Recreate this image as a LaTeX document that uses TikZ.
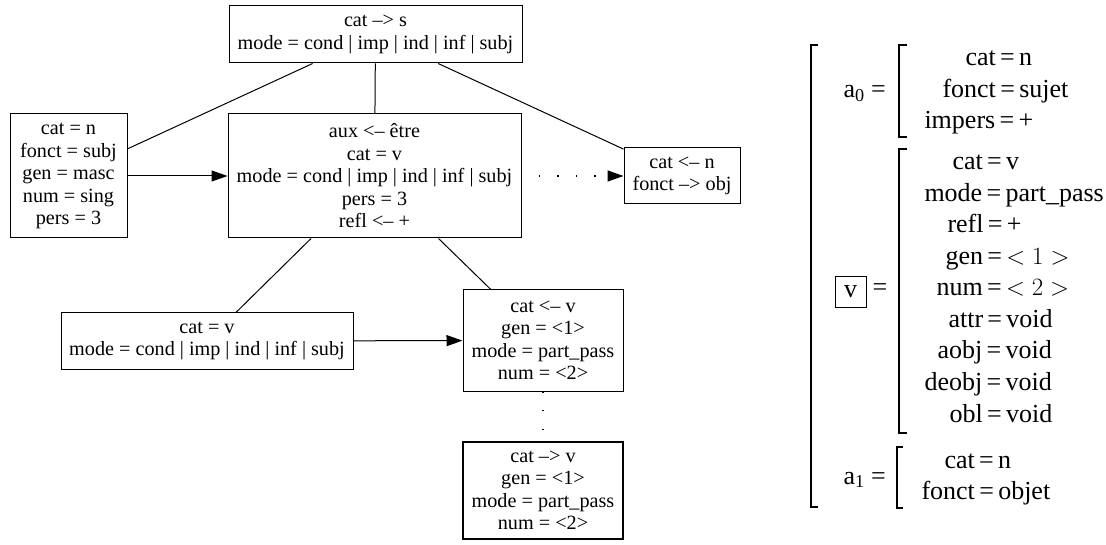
\documentclass[tikz,border=0pt]{standalone}
\usepackage{fontspec}
\setmainfont{Liberation Serif}
\usetikzlibrary{arrows.meta}
\tikzset{
	box/.style={draw,line width=1pt,align=center,inner sep=0pt,
		font=\fontsize{20.2}{22.5}\selectfont},
	dots/.style={line width=1.4pt,dash pattern=on 1.4pt off 17.1pt},
	feat/.style={anchor=base west,inner sep=0pt,font=\fontsize{26}{31}\selectfont},
	brk/.style={line width=1.6pt}
}
\begin{document}
\begin{tikzpicture}[x=1pt,y=-1pt,>={Triangle[length=16pt,width=11pt]},line width=1pt]
	\useasboundingbox (0,0) rectangle (1106,545);
	% graphe
	\node[box,minimum width=293pt,minimum height=57pt] (s) at (375.5,34.5)
		{cat --> s\\mode = cond | imp | ind | inf | subj};
	\node[box,minimum width=117pt,minimum height=124pt] (sujet) at (68.5,176)
		{cat = n\\fonct = subj\\gen = masc\\num = sing\\pers = 3};
	\node[box,minimum width=293pt,minimum height=124pt] (verbe) at (374.5,176)
		{aux <-- être\\cat = v\\mode = cond | imp | ind | inf | subj\\pers = 3\\refl <-- +};
	\node[box,minimum width=116pt,minimum height=56pt] (objet) at (682,176)
		{cat <-- n\\fonct --> obj};
	\node[box,minimum width=292pt,minimum height=56pt] (inf) at (207,341)
		{cat = v\\mode = cond | imp | ind | inf | subj};
	\node[box,minimum width=160pt,minimum height=101pt] (part) at (543,340.5)
		{cat <-- v\\gen = <1>\\mode = part\_pass\\num = <2>};
	\node[box,line width=2.2pt,minimum width=160pt,minimum height=97pt] (tete) at (543,490.5)
		{cat --> v\\gen = <1>\\mode = part\_pass\\num = <2>};
	\draw (s) -- (sujet);
	\draw (s) -- (verbe);
	\draw (s) -- (objet);
	\draw[->] (sujet) -- (verbe);
	\draw[->,dots,dash phase=1.4pt] (verbe) -- (objet);
	\draw (verbe) -- (inf);
	\draw (verbe) -- (part);
	\draw[->] (inf) -- (part);
	\draw[dots] (part) -- (tete);
	% structure de traits
	\draw[brk] (818,45) -| (811,507) -- (818,507);
	\draw[brk] (907,45) -| (899,137) -- (907,137);
	\draw[brk] (907,149) -| (899,433) -- (907,433);
	\draw[brk,line width=1.2pt] (903,447) -| (897,508) -- (903,508);
	\node[feat] (a0) at (843,97.5) {a\textsubscript{0} =};
	\node[draw,line width=.8pt,minimum size=31pt,inner sep=0pt,
		font=\fontsize{26}{31}\selectfont] (v) at (850.5,291.5) {v};
	\node[feat] (veg) at (872,296) {=};
	\node[feat] (a1) at (843,484) {a\textsubscript{1} =};
	\foreach \x/\y/\t [count=\i] in {965/66/cat\,=\,n, 942/97.5/fonct\,=\,sujet,
		924/129/impers\,=\,+, 952/170/cat\,=\,v, 924/201.5/mode\,=\,part\_pass,
		947/233/refl\,=\,+, 945/264.5/gen\,=\,$<1>$, 936/296/num\,=\,$<2>$,
		948/327.5/attr\,=\,void, 937/359/aobj\,=\,void, 924/390.5/deobj\,=\,void,
		949/422/obl\,=\,void, 944/468/cat\,=\,n, 921/499/fonct\,=\,objet}
	\node[feat] (trait\i) at (\x,\y) {\t};
\end{tikzpicture}
\end{document}
